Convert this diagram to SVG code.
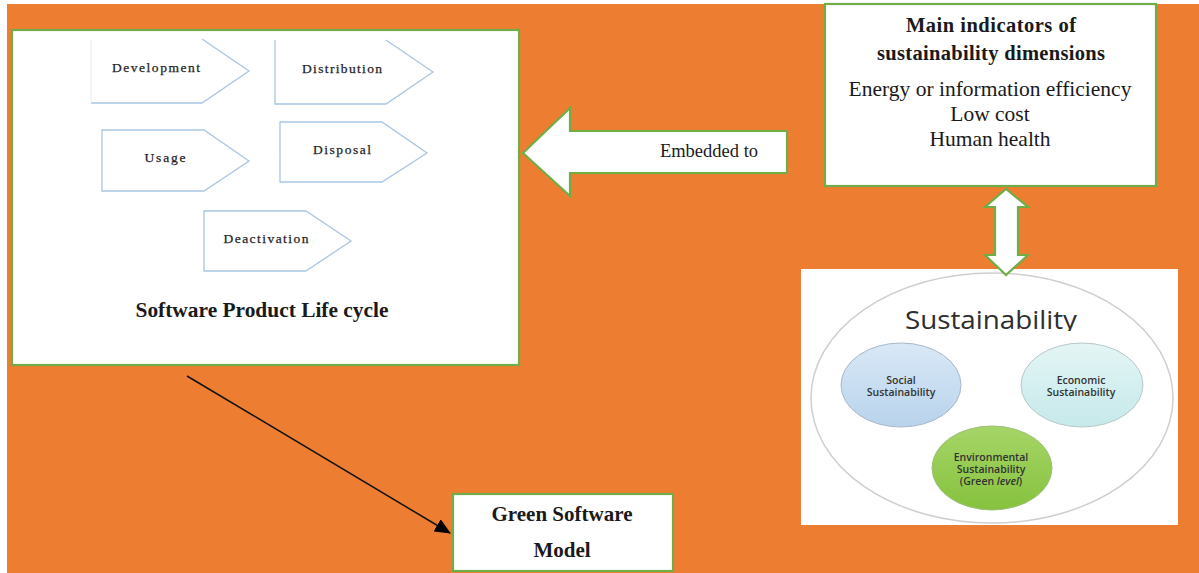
<svg xmlns="http://www.w3.org/2000/svg" width="1199" height="573" viewBox="0 0 1199 573">
  <defs>
    <style>
      .box { fill: #ffffff; stroke: #70AD47; stroke-width: 2.2; }
      .chev-fill { fill: #ffffff; stroke: none; }
      .chev { fill: none; stroke: #A9C6E3; stroke-width: 1.3; stroke-linejoin: miter; }
      .chev-txt { font-family: "Liberation Serif", "Times New Roman", serif; font-size: 13.5px; fill: #1e1e1e; text-anchor: middle; stroke: #1e1e1e; stroke-width: 0.25; }
      .serif { font-family: "Liberation Serif", "Times New Roman", serif; fill: #1a1a1a; text-anchor: middle; }
      .bold { font-weight: bold; }
      .sans { font-family: "Open Sans", "Liberation Sans", Arial, sans-serif; fill: #333; text-anchor: middle; }
      .small { font-size: 10.5px; font-weight: 600; }
      .conn { stroke: #111; stroke-width: 1.5; fill: none; }
    </style>
    <marker id="arrowhead" viewBox="0 0 16 14" refX="15" refY="7" markerWidth="16" markerHeight="14" markerUnits="userSpaceOnUse" orient="auto">
      <path d="M0,0 L16,7 L0,14 Z" fill="#000"/>
    </marker>
    <linearGradient id="gSocial" x1="0" y1="0" x2="0" y2="1">
      <stop offset="0" stop-color="#D9E8F6"/>
      <stop offset="1" stop-color="#B8D3EC"/>
    </linearGradient>
    <linearGradient id="gEcon" x1="0" y1="0" x2="0" y2="1">
      <stop offset="0" stop-color="#E4F5F5"/>
      <stop offset="1" stop-color="#C6E9EA"/>
    </linearGradient>
    <linearGradient id="gEnv" x1="0" y1="0" x2="0" y2="1">
      <stop offset="0" stop-color="#A6D568"/>
      <stop offset="1" stop-color="#86C23E"/>
    </linearGradient>
    <clipPath id="titleClip">
      <rect x="880" y="295" width="220" height="36"/>
    </clipPath>
  </defs>

  <!-- background -->
  <rect x="0" y="0" width="1199" height="573" fill="#ffffff"/>
  <rect x="7" y="4" width="1192" height="569" fill="#ED7D31"/>

  <!-- Software Product Life cycle -->
  <g id="lifecycle">
    <rect class="box" x="12" y="30" width="507" height="335"/>
    <g id="development">
      <polygon class="chev-fill" points="91,40 202,40 249,71 202,103 91,103"/>
      <polyline class="chev" points="202,39 249,71 202,103 91,103"/>
      <line x1="91" y1="40" x2="91" y2="103" stroke="#E6EEF6" stroke-width="1"/>
      <text class="chev-txt" x="156" y="72" textLength="88" lengthAdjust="spacing">Development</text>
    </g>
    <g id="distribution">
      <polygon class="chev-fill" points="275,40 386,40 433,72 386,104 275,104"/>
      <polyline class="chev" points="386,40 433,72 386,104 275,104 275,40"/>
      <text class="chev-txt" x="342" y="73" textLength="80" lengthAdjust="spacing">Distribution</text>
    </g>
    <g id="usage">
      <polygon class="chev" style="fill:#fff" points="102,130 204,130 249,161 204,191 102,191"/>
      <text class="chev-txt" x="165" y="162" textLength="41" lengthAdjust="spacing">Usage</text>
    </g>
    <g id="disposal">
      <polygon class="chev" style="fill:#fff" points="280,122 382,122 427,153 382,182 280,182"/>
      <text class="chev-txt" x="342" y="154" textLength="58" lengthAdjust="spacing">Disposal</text>
    </g>
    <g id="deactivation">
      <polygon class="chev" style="fill:#fff" points="204,211 306,211 351,241 306,271 204,271"/>
      <text class="chev-txt" x="266" y="243" textLength="85" lengthAdjust="spacing">Deactivation</text>
    </g>
    <text class="serif bold" x="262" y="317" font-size="20.5" textLength="253" lengthAdjust="spacingAndGlyphs">Software Product Life cycle</text>
  </g>

  <!-- Main indicators box -->
  <g id="indicators">
    <rect class="box" x="825" y="4" width="331" height="182"/>
    <text class="serif bold" x="991" y="32" font-size="20.5" textLength="170" lengthAdjust="spacing">Main indicators of</text>
    <text class="serif bold" x="991" y="60" font-size="20.5" textLength="228" lengthAdjust="spacing">sustainability dimensions</text>
    <text class="serif" x="990" y="96" font-size="21.5">Energy or information efficiency</text>
    <text class="serif" x="990" y="121" font-size="21.5">Low cost</text>
    <text class="serif" x="990" y="146" font-size="21.5">Human health</text>
  </g>

  <!-- Sustainability picture -->
  <g id="sustainability">
    <rect x="801" y="269" width="377" height="256" fill="#ffffff"/>
    <ellipse cx="992" cy="398" rx="181" ry="125" fill="none" stroke="#CFCFCF" stroke-width="1.5"/>
    <text class="sans" x="991" y="329" font-size="25" textLength="172" lengthAdjust="spacingAndGlyphs" clip-path="url(#titleClip)" style="fill:#2e2e2e">Sustainability</text>
    <g id="social">
      <ellipse cx="901" cy="385" rx="60" ry="42" fill="url(#gSocial)" stroke="#A8B8C8" stroke-width="1"/>
      <text class="sans small" x="901" y="384">Social</text>
      <text class="sans small" x="901" y="396">Sustainability</text>
    </g>
    <g id="economic">
      <ellipse cx="1082" cy="385" rx="61" ry="42" fill="url(#gEcon)" stroke="#B8C8C8" stroke-width="1"/>
      <text class="sans small" x="1081" y="384">Economic</text>
      <text class="sans small" x="1081" y="396">Sustainability</text>
    </g>
    <g id="environmental">
      <ellipse cx="992" cy="468" rx="60" ry="42" fill="url(#gEnv)" stroke="#9DBF7A" stroke-width="1"/>
      <text class="sans small" x="991" y="461">Environmental</text>
      <text class="sans small" x="991" y="473">Sustainability</text>
      <text class="sans small" x="991" y="485">(Green <tspan font-style="italic">level</tspan>)</text>
    </g>
  </g>

  <!-- Green Software Model -->
  <g id="green-model">
    <rect class="box" x="453" y="494" width="220" height="77"/>
    <text class="serif bold" x="562" y="521" font-size="21">Green Software</text>
    <text class="serif bold" x="562" y="557" font-size="21">Model</text>
  </g>

  <!-- connectors -->
  <g id="connectors">
    <g id="embedded-arrow">
      <path class="box" d="M523,153 L570,108 L570,131 L787,131 L787,173 L570,173 L570,196 Z"/>
      <text class="serif" x="709" y="157" font-size="18.5">Embedded to</text>
    </g>
    <path id="double-arrow" class="box" d="M1006,189 L1028,207 L1018,207 L1018,255 L1028,255 L1006,275 L985,255 L995,255 L995,207 L985,207 Z"/>
    <line class="conn" x1="187" y1="376" x2="450" y2="533" marker-end="url(#arrowhead)"/>
  </g>
</svg>
